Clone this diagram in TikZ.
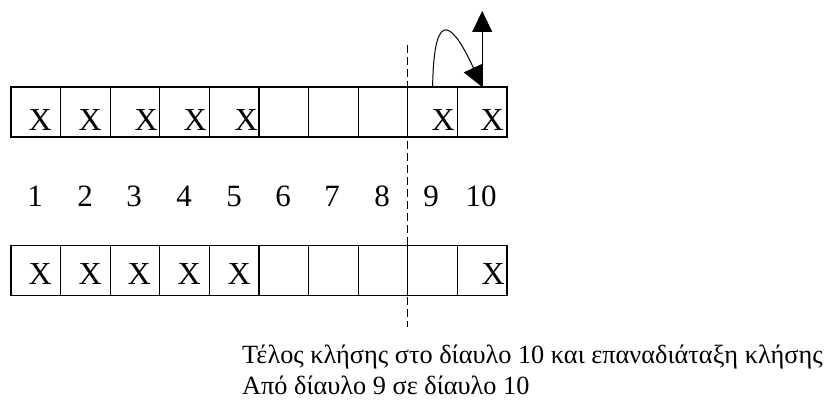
\documentclass[tikz,border=0pt]{standalone}
\usepackage{fontspec}
\setmainfont{Liberation Serif}
\usetikzlibrary{arrows.meta}
\begin{document}
\begin{tikzpicture}[x=1pt,y=-1pt,
  cell/.style={draw,line width=1.2pt,minimum width=49.6pt,minimum height=50pt,inner sep=0pt,outer sep=0pt},
  xmark/.style={anchor=base east,inner sep=0pt,font=\fontsize{32}{32}\selectfont},
  num/.style={anchor=base,inner sep=0pt,font=\fontsize{31}{31}\selectfont},
  caption/.style={anchor=base west,inner sep=0pt,font=\fontsize{26.3}{26.3}\selectfont}]
\useasboundingbox (0,0) rectangle (825,409);
% rows of cells
\foreach \i in {1,...,10} {
  \node[cell] (t\i) at ({11+49.6*(\i-0.5)},112) {};
  \node[cell] (b\i) at ({11+49.6*(\i-0.5)},270.5) {};
}
% X marks top
\node[xmark] (tx1) at (52,131) {X};
\node[xmark] (tx2) at (102,131) {X};
\node[xmark] (tx3) at (158,131) {X};
\node[xmark] (tx4) at (207,131) {X};
\node[xmark] (tx5) at (258,131) {X};
\node[xmark] (tx9) at (455,131) {X};
\node[xmark] (tx10) at (504,131) {X};
% X marks bottom
\node[xmark] (bx1) at (52,284) {X};
\node[xmark] (bx2) at (102,284) {X};
\node[xmark] (bx3) at (151,284) {X};
\node[xmark] (bx4) at (201,284) {X};
\node[xmark] (bx5) at (251,284) {X};
\node[xmark] (bx10) at (505,284) {X};
% numbers
\node[num] (n1) at (35,207) {1};
\node[num] (n2) at (85,207) {2};
\node[num] (n3) at (134,207) {3};
\node[num] (n4) at (184,207) {4};
\node[num] (n5) at (234,207) {5};
\node[num] (n6) at (283,207) {6};
\node[num] (n7) at (332,207) {7};
\node[num] (n8) at (382,207) {8};
\node[num] (n9) at (431,207) {9};
\node[num] (n10) at (481,207) {10};
% dashed divider
\coordinate (dtop) at (407.8,45);
\coordinate (dbot) at (407.8,327);
\draw[line width=1pt,dash pattern=on 8pt off 4pt] (dtop) -- (dbot);
% arrows
\coordinate (up) at (t10.north |- 0,11);
\draw[line width=1.2pt,-{Triangle[length=21pt,width=20pt]}] (t10.north) -- (up);
\draw[line width=1pt,-{Triangle[length=21pt,width=21pt]}] (t9.north) .. controls (434,0) and (455,28) .. (t10.north);
% caption
\node[caption] (c1) at (242,363) {Τέλος κλήσης στο δίαυλο 10 και επαναδιάταξη κλήσης};
\node[caption] (c2) at (242,394) {Από δίαυλο 9 σε δίαυλο 10};
\end{tikzpicture}
\end{document}
